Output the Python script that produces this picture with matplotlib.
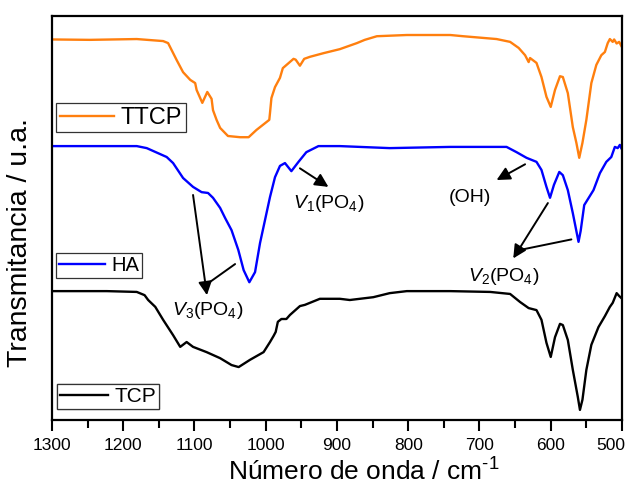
import matplotlib
matplotlib.use("Agg")
from matplotlib import pyplot as plt
from matplotlib.ticker import MultipleLocator, NullLocator
from matplotlib.transforms import ScaledTranslation

plt.rcParams['font.family'] = ['Liberation Sans', 'DejaVu Sans']
plt.rcParams['mathtext.fontset'] = 'custom'
plt.rcParams['mathtext.rm'] = 'Liberation Sans'
plt.rcParams['mathtext.it'] = 'Liberation Sans:italic'

# FTIR spectra, wavenumber (cm-1) vs transmittance (u.a., offset)
ttcp_wn = [1300, 1247, 1181, 1144, 1137, 1125, 1116, 1106, 1099, 1097, 1089, 1082,
           1076, 1074, 1069, 1064, 1053, 1036, 1024, 1013, 995, 994, 992, 987, 980,
           976, 961, 958, 952, 946, 938, 919, 896, 872, 861, 844, 802, 741, 723, 676,
           657, 645, 636, 631, 629, 620, 613, 606, 600, 594, 587, 583, 576, 569, 564,
           560, 555.5, 550, 543, 536, 529, 524, 520, 517, 513, 511, 507.5, 504, 501]
ttcp_t = [94.2, 94.1, 94.3, 93.8, 93.3, 89.1, 86.1, 84.2, 83.4, 81.7, 78.5, 81.2,
          79.5, 76.7, 74.3, 72.3, 70.3, 70.0, 70.0, 71.8, 74.3, 76.0, 79.7, 82.4, 84.7,
          87.1, 89.4, 89.2, 87.7, 89.4, 89.9, 90.8, 91.8, 93.3, 94.1, 95.0, 95.3, 95.3, 95.0, 94.3,
          93.6, 92.1, 90.3, 88.6, 89.6, 88.4, 84.9, 80.0, 77.5, 81.7, 85.1, 84.9, 80.9, 72.5, 68.6,
          64.9, 68.6, 74.3, 83.4, 87.9, 90.3, 91.1, 93.3, 94.3, 93.6, 94.2, 93.2, 93.6, 92.6]

ha_wn = [1300, 1181, 1167, 1139, 1130, 1116, 1102, 1090, 1081, 1074, 1064, 1057,
         1048, 1038.5, 1031, 1023, 1015, 1008, 1001, 994, 987, 980, 973, 964, 954,
         943, 926, 896, 826, 741, 662, 648, 634, 620, 613, 606, 601, 595.5, 588, 583,
         576, 569, 561, 558, 553, 540, 531, 522, 515, 510, 506, 503, 501]
ha_t = [67.8, 67.8, 67.3, 65.1, 63.6, 59.9, 57.7, 56.4, 56.2, 55.0, 52.5, 50.0,
        47.0, 42.1, 37.1, 34.1, 36.6, 43.8, 49.5, 55.2, 60.1, 62.9, 63.6, 61.6, 63.9,
        66.3, 67.8, 67.8, 67.3, 67.6, 67.6, 66.3, 64.9, 63.9, 61.9, 57.7, 55.0, 58.2, 61.4, 60.6,
        56.9, 51.2, 44.1, 46.8, 53.2, 56.9, 61.1, 63.9, 65.1, 67.6, 67.3, 68.1, 67.3]

tcp_wn = [1300, 1223, 1181, 1170, 1165, 1155, 1144, 1130, 1120, 1111, 1102, 1083,
          1064, 1048, 1038, 1022, 1003, 994, 989, 986, 983, 978, 971, 966, 952, 945,
          938, 924, 896, 882, 849, 826, 802, 741, 685, 657, 643, 631, 620, 613, 606,
          600, 594, 587, 583, 576, 569, 562, 559, 555.5, 550, 543, 533, 524, 517, 513,
          507.5, 504, 501]
tcp_t = [31.9, 31.9, 31.7, 30.9, 29.7, 28.0, 24.8, 21.0, 18.1, 19.3, 18.1, 16.8,
         15.3, 13.6, 13.1, 14.9, 16.8, 19.3, 20.8, 21.8, 24.3, 25.0, 25.0, 26.0, 28.2, 28.5,
         29.0, 30.0, 30.0, 29.7, 30.4, 31.4, 31.9, 31.9, 31.7, 31.2, 29.2, 27.7, 27.2, 24.8, 19.1,
         15.6, 20.5, 23.8, 23.5, 19.8, 12.4, 5.7, 2.5, 5.0, 12.4, 18.6, 23.0, 25.7, 28.0, 29.0,
         31.4, 30.7, 30.2]

fig = plt.figure(figsize=(6.33, 4.87), dpi=100)
ax = fig.add_axes([0.0821, 0.1376, 0.9005, 0.8295])

l_ttcp, = ax.plot(ttcp_wn, ttcp_t, color='#FF7F0E', lw=1.7)
l_ha, = ax.plot(ha_wn, ha_t, color='#0000FF', lw=1.7)
l_tcp, = ax.plot(tcp_wn, tcp_t, color='black', lw=1.7)

ax.set_xlim(1300, 500)
ax.set_ylim(0, 100)
ax.xaxis.set_major_locator(MultipleLocator(100))
ax.xaxis.set_minor_locator(MultipleLocator(50))
ax.yaxis.set_major_locator(NullLocator())
ax.tick_params(axis='x', which='major', direction='out', length=8, width=1.5, labelsize=12.5, pad=5)
ax.tick_params(axis='x', which='minor', direction='out', length=5.5, width=1.5)
for s in ax.spines.values():
    s.set_linewidth(1.6)

# the "500" label sits against the right edge, nudge it left a little
locs = list(ax.xaxis.get_majorticklocs())
ticks = ax.xaxis.get_major_ticks(len(locs))
lab = ticks[locs.index(500)].label1
lab.set_transform(lab.get_transform() + ScaledTranslation(-8 / 72, 0, fig.dpi_scale_trans))

ax.set_xlabel(r"Número de onda / cm$^{\text{-1}}$", fontsize=19)
ax.xaxis.set_label_coords(0.546, -0.094)
ax.set_ylabel("Transmitancia / u.a.", fontsize=20.5)
ax.yaxis.set_label_coords(-0.033, 0.44)

# separate legend boxes next to each spectrum
def box(line, label, anchor, size):
    leg = ax.legend([line], [label], loc='upper left', bbox_to_anchor=anchor,
                    borderaxespad=0, borderpad=0.15, handlelength=2.3,
                    handletextpad=0.3, fancybox=False, framealpha=1,
                    edgecolor='#333333', prop={'size': size})
    leg.get_frame().set_linewidth(0.9)
    ax.add_artist(leg)

box(l_ttcp, "TTCP", (0.007, 0.784), 17)
box(l_ha, "HA", (0.007, 0.414), 14.5)
box(l_tcp, "TCP", (0.009, 0.089), 15)

arrow = dict(arrowstyle='-|>', color='black', lw=1.4, mutation_scale=20,
             shrinkA=0, shrinkB=0)
line = dict(arrowstyle='-', color='black', lw=1.4, shrinkA=0, shrinkB=0)

ax.annotate("", xy=(912, 57.7), xytext=(952, 62.3), arrowprops=arrow)
ax.text(911, 53.7, r"$\mathit{V_1}$(PO$_4$)", fontsize=14, ha='center', va='center')

ax.annotate("", xy=(676, 59.4), xytext=(636, 63.3), arrowprops=arrow)
ax.text(713, 55.0, "(OH)", fontsize=14, ha='center', va='center')

ax.annotate("", xy=(1082.5, 30.9), xytext=(1102, 55.7), arrowprops=arrow)
ax.annotate("", xy=(1078, 34.2), xytext=(1043, 38.6), arrowprops=line)
ax.text(1081, 27.0, r"$\mathit{V_3}$(PO$_4$)", fontsize=14, ha='center', va='center')

ax.annotate("", xy=(652.6, 40.0), xytext=(604, 53.7), arrowprops=arrow)
ax.annotate("", xy=(643, 42.1), xytext=(571, 44.7), arrowprops=line)
ax.text(666, 35.6, r"$\mathit{V_2}$(PO$_4$)", fontsize=14, ha='center', va='center')

fig.savefig("out.png", dpi=100)
